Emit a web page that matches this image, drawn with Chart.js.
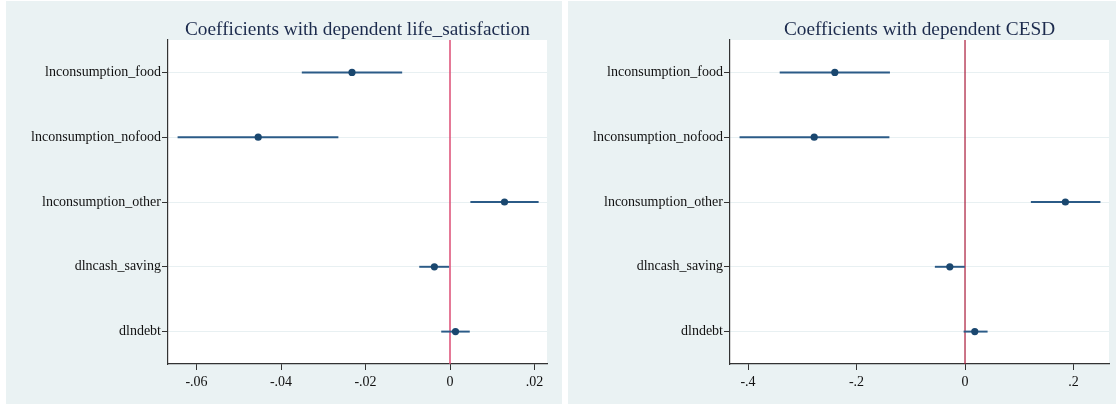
<!DOCTYPE html>
<html>
<head>
<meta charset="utf-8">
<script src="https://cdn.jsdelivr.net/npm/chart.js@4.4.1/dist/chart.umd.min.js"></script>
<style>
  html, body { margin: 0; padding: 0; background: #ffffff; }
  body { width: 1116px; height: 404px; position: relative; overflow: hidden; }
  .panel { position: absolute; background: #eaf2f3; }
  #p1 { left: 6px; top: 1px; width: 556px; height: 403px; }
  #p2 { left: 568px; top: 1px; width: 548px; height: 403px; }
  canvas { display: block; }
</style>
</head>
<body>
<div class="panel" id="p1"><canvas id="c1" width="556" height="403"></canvas></div>
<div class="panel" id="p2"><canvas id="c2" width="548" height="403"></canvas></div>
<script>
// Regressors, top to bottom
const categories = ['lnconsumption_food', 'lnconsumption_nofood', 'lnconsumption_other', 'dlncash_saving', 'dlndebt'];

// Dependent: life_satisfaction (point estimate and 95% CI bounds)
const lifeCoef = [-0.0232, -0.0454, 0.0129, -0.0037, 0.0013];
const lifeLow  = [-0.0350, -0.0644, 0.0049, -0.0072, -0.0020];
const lifeHigh = [-0.0114, -0.0265, 0.0209, -0.0003, 0.0046];
const lifeTickValues = [-0.06, -0.04, -0.02, 0, 0.02];
const lifeTickLabels = ['-.06', '-.04', '-.02', '0', '.02'];

// Dependent: CESD
const cesdCoef = [-0.240, -0.278, 0.185, -0.028, 0.018];
const cesdLow  = [-0.341, -0.415, 0.122, -0.055, -0.002];
const cesdHigh = [-0.139, -0.140, 0.249, 0.000, 0.041];
const cesdTickValues = [-0.4, -0.2, 0, 0.2];
const cesdTickLabels = ['-.4', '-.2', '0', '.2'];

const SERIF = "'Liberation Serif', 'Times New Roman', serif";
const NAVY = '#1a476f';

// White plot region plus the vertical reference line at zero
const plotDecor = {
  id: 'plotDecor',
  beforeDraw(chart) {
    const a = chart.chartArea, ctx = chart.ctx;
    ctx.save();
    ctx.fillStyle = '#ffffff';
    ctx.fillRect(a.left, a.top, a.right - a.left, a.bottom - a.top);
    ctx.restore();
  },
  beforeDatasetsDraw(chart, args, opts) {
    const a = chart.chartArea, ctx = chart.ctx;
    const x0 = chart.scales.x.getPixelForValue(0);
    ctx.save();
    ctx.strokeStyle = opts.color;
    ctx.lineWidth = opts.width;
    ctx.beginPath();
    ctx.moveTo(x0, a.top);
    ctx.lineTo(x0, a.bottom);
    ctx.stroke();
    ctx.restore();
  }
};

function coefPlot(canvasId, title, coef, low, high, xMin, xMax, tickValues, tickLabels, zeroColor, zeroWidth, rightPad) {
  return new Chart(document.getElementById(canvasId), {
    type: 'bar',
    data: {
      labels: categories,
      datasets: [
        {
          type: 'line',
          indexAxis: 'y',
          data: coef,
          showLine: false,
          pointRadius: 3.6,
          pointBorderWidth: 0,
          pointBackgroundColor: NAVY,
          borderColor: NAVY,
          order: 0
        },
        {
          type: 'bar',
          indexAxis: 'y',
          data: low.map((l, i) => [l, high[i]]),
          backgroundColor: '#2b5b87',
          barThickness: 1.3,
          borderWidth: 0,
          order: 1
        }
      ]
    },
    options: {
      indexAxis: 'y',
      responsive: false,
      animation: false,
      devicePixelRatio: 1,
      layout: { padding: { left: 0, top: 0, bottom: 0, right: rightPad } },
      plugins: {
        legend: { display: false },
        tooltip: { enabled: false },
        title: {
          display: true,
          text: title,
          fullSize: false,
          color: '#1c2b4d',
          font: { family: SERIF, size: 19.3, weight: 'normal', lineHeight: 1.0 },
          padding: { top: 19.5, bottom: 0.2 }
        },
        plotDecor: { color: zeroColor, width: zeroWidth }
      },
      scales: {
        x: {
          type: 'linear',
          min: xMin,
          max: xMax,
          afterBuildTicks: s => { s.ticks = tickValues.map(v => ({ value: v })); },
          afterFit: s => { s.height = 40; },
          grid: { drawOnChartArea: false, tickColor: '#333333', tickLength: 6, lineWidth: 1 },
          border: { color: '#333333', width: 1.2 },
          ticks: {
            color: '#111111',
            font: { family: SERIF, size: 14 },
            padding: 4,
            autoSkip: false,
            maxRotation: 0,
            callback: v => {
              const i = tickValues.findIndex(t => Math.abs(t - v) < 1e-9);
              return i >= 0 ? tickLabels[i] : '';
            }
          }
        },
        y: {
          type: 'category',
          offset: true,
          afterFit: s => { s.width = 162; },
          grid: { offset: false, color: '#e8f0f2', lineWidth: 1, tickColor: '#333333', tickLength: 6 },
          border: { color: '#333333', width: 1.2 },
          ticks: {
            color: '#111111',
            font: { family: SERIF, size: 14 },
            padding: 1,
            autoSkip: false
          }
        }
      }
    },
    plugins: [plotDecor]
  });
}

coefPlot('c1', 'Coefficients with dependent life_satisfaction',
  lifeCoef, lifeLow, lifeHigh, -0.06675, 0.02296, lifeTickValues, lifeTickLabels, '#dd4d74', 1.5, 15);
coefPlot('c2', 'Coefficients with dependent CESD',
  cesdCoef, cesdLow, cesdHigh, -0.4332, 0.2654, cesdTickValues, cesdTickLabels, '#a81838', 1.2, 7);
</script>
</body>
</html>
